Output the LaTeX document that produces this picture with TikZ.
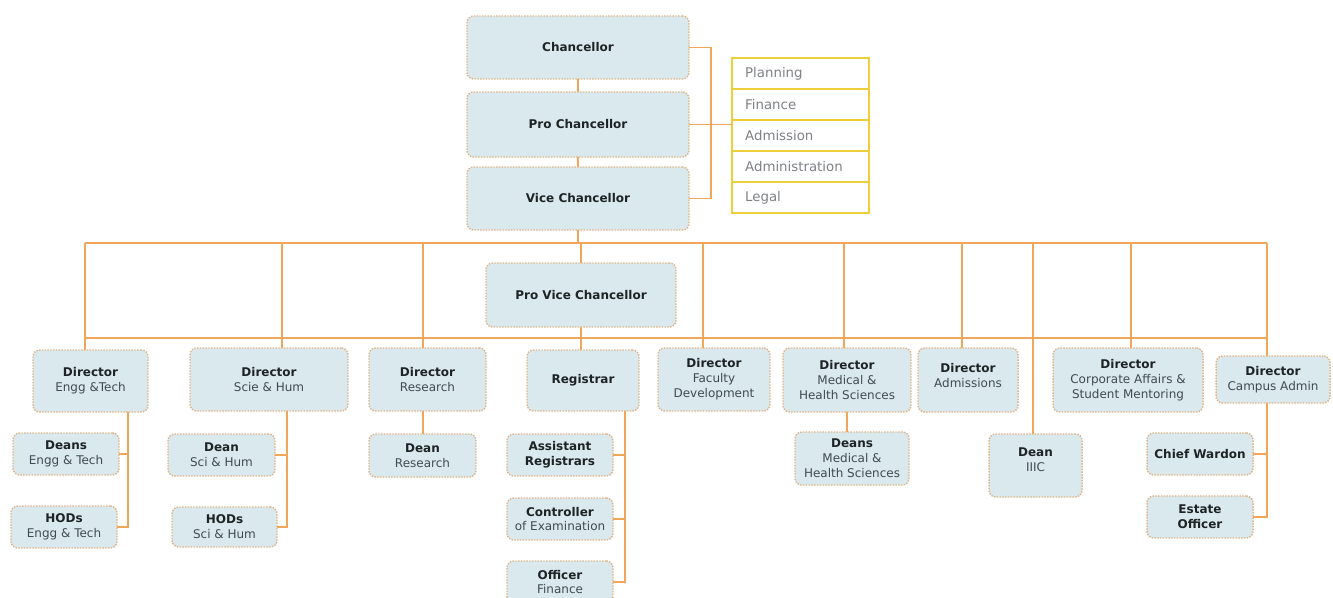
\documentclass[tikz,border=0pt]{standalone}
\usepackage{fontspec}
\setmainfont{DejaVu Sans}
\definecolor{boxfill}{HTML}{DAE9ED}
\definecolor{boxborder}{HTML}{E0B486}
\definecolor{linec}{HTML}{F2A65A}
\definecolor{goldc}{HTML}{EDCF3A}
\definecolor{titlec}{HTML}{1E2326}
\definecolor{subc}{HTML}{3F4B54}
\definecolor{yeltext}{HTML}{7E8286}
\tikzset{
  orgbox/.style={draw=boxborder, fill=boxfill, densely dotted, line width=1.1pt,
    rounded corners=5pt, align=center, inner sep=1pt, outer sep=0pt,
    font=\fontsize{9}{11.2}\selectfont, text=titlec},
  yelrow/.style={draw=goldc, line width=1.3pt, fill=white, inner sep=0pt, outer sep=0pt,
    minimum width=102.75pt, minimum height=23.25pt, text width=83pt, align=left,
    font=\fontsize{10}{12}\selectfont, text=yeltext},
  conn/.style={draw=linec, line width=1.4pt}
}
\newcommand{\ttl}[1]{\textbf{#1}}
\newcommand{\subt}[1]{\textcolor{subc}{#1}}
% name, x1, y1, x2, y2, text
\newcommand{\orgnode}[6]{%
  \node[orgbox, minimum width={(#4-#2)*0.75pt}, minimum height={(#5-#3)*0.75pt}]
    (#1) at ({(#2+#4)/2},{(#3+#5)/2}) {#6};}
\begin{document}
\begin{tikzpicture}[x=0.75pt, y=-0.75pt]
\useasboundingbox (0,0) rectangle (1333,597);
% top boxes
\orgnode{chan}{467}{16}{689}{79}{\ttl{Chancellor}}
\orgnode{pro}{467}{92}{689}{157}{\ttl{Pro Chancellor}}
\orgnode{vice}{467}{167}{689}{230}{\ttl{Vice Chancellor}}
% yellow table
\node[yelrow] (y1) at (800.5,73.5) {Planning};
\node[yelrow] (y2) at (800.5,104.5) {Finance};
\node[yelrow] (y3) at (800.5,135.5) {Admission};
\node[yelrow] (y4) at (800.5,166.5) {Administration};
\node[yelrow] (y5) at (800.5,197.5) {Legal};
% pro vice
\orgnode{pvc}{486}{263}{676}{327}{\ttl{Pro Vice Chancellor}}
% directors row
\orgnode{engg}{33}{350}{148}{412}{\ttl{Director}\\\subt{Engg \&Tech}}
\orgnode{scie}{190}{348}{348}{411}{\ttl{Director}\\\subt{Scie \& Hum}}
\orgnode{res}{369}{348}{486}{411}{\ttl{Director}\\\subt{Research}}
\orgnode{reg}{527}{350}{639}{411}{\ttl{Registrar}}
\orgnode{fac}{658}{348}{770}{411}{\ttl{Director}\\\subt{Faculty}\\\subt{Development}}
\orgnode{med}{783}{348}{911}{412}{\ttl{Director}\\\subt{Medical \&}\\\subt{Health Sciences}}
\orgnode{adm}{918}{348}{1018}{412}{\ttl{Director}\\\subt{Admissions}\\[-3.7pt]}
\orgnode{corp}{1053}{348}{1203}{412}{\ttl{Director}\\\subt{Corporate Affairs \&}\\\subt{Student Mentoring}}
\orgnode{camp}{1216}{356}{1330}{403}{\ttl{Director}\\\subt{Campus Admin}}
% third row
\orgnode{deansE}{13}{433}{119}{475}{\ttl{Deans}\\\subt{Engg \& Tech}}
\orgnode{hodsE}{11}{506}{117}{548}{\ttl{HODs}\\\subt{Engg \& Tech}}
\orgnode{deanS}{168}{434}{275}{476}{\ttl{Dean}\\\subt{Sci \& Hum}}
\orgnode{hodsS}{172}{507}{277}{547}{\ttl{HODs}\\\subt{Sci \& Hum}}
\orgnode{deanR}{369}{434}{476}{477}{\ttl{Dean}\\\subt{Research}}
\orgnode{asst}{507}{434}{613}{476}{\ttl{Assistant}\\\ttl{Registrars}}
\orgnode{ctrl}{507}{498}{613}{540}{\ttl{Controller}\\\subt{of Examination}}
\orgnode{offi}{507}{561}{613}{603}{\ttl{Officer}\\\subt{Finance}}
\orgnode{deansM}{795}{432}{909}{485}{\ttl{Deans}\\\subt{Medical \&}\\\subt{Health Sciences}}
\orgnode{iiic}{989}{434}{1082}{497}{\ttl{Dean}\\\subt{IIIC}\\[-2.2pt]}
\orgnode{chief}{1147}{433}{1253}{475}{\ttl{Chief Wardon}}
\orgnode{estate}{1147}{496}{1253}{538}{\ttl{Estate}\\\ttl{Officer}}
% coordinates
\coordinate (brk) at (711,0);
\coordinate (bar1L) at (85,243);
\coordinate (bar1R) at (1267,243);
\coordinate (bar2L) at (85,338);
\coordinate (bar2R) at (1267,338);
\coordinate (d1) at (85,243);
\coordinate (d2) at (282,243);
\coordinate (d3) at (423,243);
\coordinate (d4) at (581,243);
\coordinate (d5) at (703,243);
\coordinate (d6) at (844,243);
\coordinate (d7) at (962,243);
\coordinate (d8) at (1033,243);
\coordinate (d9) at (1131,243);
\coordinate (d10) at (1267,243);
\coordinate (sE) at (128,0);
\coordinate (sS) at (287,0);
\coordinate (sR) at (423,0);
\coordinate (sG) at (625,0);
\coordinate (sM) at (847,0);
% connectors
\draw[conn] (chan.south) -- (pro.north);
\draw[conn] (pro.south) -- (vice.north);
\draw[conn] (chan.east) -- (chan.east -| brk) -- (vice.east -| brk) -- (vice.east);
\draw[conn] (pro.east) -- (pro.east -| y3.west);
\draw[conn] (vice.south) -- (vice.south |- bar1L);
\draw[conn] (bar1L) -- (bar1R);
\draw[conn] (bar2L) -- (bar2R);
\draw[conn] (d1) -- (d1 |- engg.north);
\draw[conn] (d2) -- (d2 |- scie.north);
\draw[conn] (d3) -- (d3 |- res.north);
\draw[conn] (d4) -- (d4 |- pvc.north);
\draw[conn] (d4 |- pvc.south) -- (d4 |- reg.north);
\draw[conn] (d5) -- (d5 |- fac.north);
\draw[conn] (d6) -- (d6 |- med.north);
\draw[conn] (d7) -- (d7 |- adm.north);
\draw[conn] (d8) -- (d8 |- iiic.north);
\draw[conn] (d9) -- (d9 |- corp.north);
\draw[conn] (d10) -- (d10 |- camp.north);
\draw[conn] (d10 |- camp.south) -- (d10 |- estate.east) -- (estate.east);
\draw[conn] (d10 |- chief.east) -- (chief.east);
\draw[conn] (sE |- engg.south) -- (sE |- hodsE.east) -- (hodsE.east);
\draw[conn] (sE |- deansE.east) -- (deansE.east);
\draw[conn] (sS |- scie.south) -- (sS |- hodsS.east) -- (hodsS.east);
\draw[conn] (sS |- deanS.east) -- (deanS.east);
\draw[conn] (sR |- res.south) -- (sR |- deanR.north);
\draw[conn] (sG |- reg.south) -- (sG |- offi.east) -- (offi.east);
\draw[conn] (sG |- asst.east) -- (asst.east);
\draw[conn] (sG |- ctrl.east) -- (ctrl.east);
\draw[conn] (sM |- med.south) -- (sM |- deansM.north);
\end{tikzpicture}
\end{document}
